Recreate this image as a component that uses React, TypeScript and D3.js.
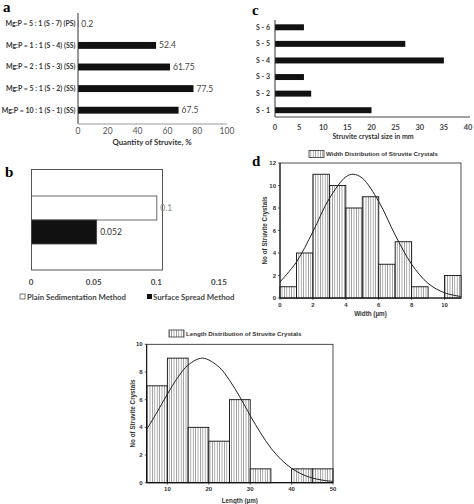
import React from "react";
import * as d3 from "d3";

// ---------- Panel a ----------
const aCategories = [
  "Mg:P = 5 : 1 (S - 7) (PS)",
  "Mg:P = 1 : 1 (S - 4) (SS)",
  "Mg:P = 2 : 1 (S - 3) (SS)",
  "Mg:P = 5 : 1 (S - 2) (SS)",
  "Mg:P = 10 : 1 (S - 1) (SS)",
];
const aValues = [0.2, 52.4, 61.75, 77.5, 67.5];
const aTicks = [0, 20, 40, 60, 80, 100];

// ---------- Panel b ----------
const bSeries = ["Plain Sedimentation Method", "Surface Spread Method"];
const bValues = [0.1, 0.052];
const bLabels = ["0.1", "0.052"];
const bTicks = [0, 0.05, 0.1, 0.15];
const bTickLabels = ["0", "0.05", "0.1", "0.15"];

// ---------- Panel c ----------
const cCategories = ["S - 6", "S - 5", "S - 4", "S - 3", "S - 2", "S - 1"];
const cValues = [6, 27, 35, 6, 7.5, 20];
const cTicks = [0, 5, 10, 15, 20, 25, 30, 35, 40];

// ---------- Panel d (width histogram) ----------
const dBinStart = [0, 1, 2, 3, 4, 5, 6, 7, 8, 9, 10];
const dBinEnd = [1, 2, 3, 4, 5, 6, 7, 8, 9, 10, 11];
const dCounts = [1, 4, 11, 10, 8, 9, 3, 5, 1, 0, 2];
const dCurveX = [0, 1, 2, 3, 4, 4.45, 5, 6, 7, 8, 9, 10, 11];
const dCurveY = [1.43, 3.2, 5.9, 8.85, 10.77, 11, 10.66, 8.58, 5.6, 3.0, 1.3, 0.46, 0.13];
const dXTicks = [0, 2, 4, 6, 8, 10];
const dYTicks = [0, 2, 4, 6, 8, 10, 12];

// ---------- Panel e (length histogram) ----------
const eBinStart = [5, 10, 15, 20, 25, 30, 35, 40, 45];
const eBinEnd = [10, 15, 20, 25, 30, 35, 40, 45, 50];
const eCounts = [7, 9, 4, 3, 6, 1, 0, 1, 1];
const eCurveX = [5, 7.5, 10, 12.5, 15, 18.5, 22.5, 25, 27.5, 30, 32.5, 35, 37.5, 40, 42.5, 45, 47.5, 50];
const eCurveY = [3.85, 5.1, 6.4, 7.6, 8.5, 9, 8.35, 7.4, 6.2, 4.85, 3.6, 2.5, 1.66, 1.04, 0.61, 0.34, 0.18, 0.09];
const eXTicks = [10, 20, 30, 40, 50];
const eYTicks = [0, 2, 4, 6, 8, 10];

const XL = "Lato, 'Open Sans', sans-serif";
const AR = "'Liberation Sans', Arial, sans-serif";
const SERIF = "'Liberation Serif', 'DejaVu Serif', serif";

function PanelA() {
  const x = d3.scaleLinear().domain([0, 100]).range([78, 227]);
  const y = d3.scaleBand().domain(aCategories).range([13, 121]).paddingInner(0.68).paddingOuter(0.34);
  return (
    <g>
      <text x={3} y={12} fontFamily={SERIF} fontWeight="bold" fontSize={15}>a</text>
      {aCategories.map((c, i) => (
        <g key={c}>
          <text x={75.5} y={y(c)! + y.bandwidth() / 2} dy="0.35em" textAnchor="end" fontFamily={XL} fontWeight="bold" fontSize={7} fill="#333">{c}</text>
          <rect x={x(0)} y={y(c)} width={x(aValues[i]) - x(0)} height={y.bandwidth()} fill="#111" />
          <text x={x(aValues[i]) + 3} y={y(c)! + y.bandwidth() / 2} dy="0.35em" fontFamily={XL} fontSize={8.5} fill="#444">{aValues[i]}</text>
        </g>
      ))}
      <line x1={x(0)} x2={x(0)} y1={13} y2={124} stroke="#333" />
      <line x1={x(0)} x2={x(100)} y1={124} y2={124} stroke="#999" />
      {aTicks.map((t) => (
        <text key={t} x={x(t)} y={131} dy="0.35em" textAnchor="middle" fontFamily={XL} fontSize={8.5} fill="#555">{t}</text>
      ))}
      <text x={152} y={142} dy="0.35em" textAnchor="middle" fontFamily={XL} fontWeight="bold" fontSize={7.8} fill="#333">Quantity of Struvite, %</text>
    </g>
  );
}

function PanelB() {
  const x = d3.scaleLinear().domain([0, 0.15]).range([31, 219]);
  const y = d3.scaleBand().domain(bSeries).range([196, 244]).padding(0);
  const fills = ["#fff", "#111"];
  const labelColors = ["#888", "#333"];
  return (
    <g>
      <text x={5} y={177} fontFamily={SERIF} fontWeight="bold" fontSize={15}>b</text>
      <rect x={31.5} y={169.5} width={131} height={100.5} fill="#fff" stroke="#555" />
      {bSeries.map((s, i) => (
        <g key={s}>
          <rect x={x(0) + 0.5} y={y(s)} width={x(bValues[i]) - x(0)} height={y.bandwidth()} fill={fills[i]} stroke="#444" strokeWidth={0.8} />
          <text x={x(bValues[i]) + 4} y={y(s)! + y.bandwidth() / 2} dy="0.35em" fontFamily={XL} fontSize={8.5} fill={labelColors[i]}>{bLabels[i]}</text>
        </g>
      ))}
      {bTicks.map((t, i) => (
        <text key={t} x={x(t)} y={282} dy="0.35em" textAnchor="middle" fontFamily={XL} fontWeight="bold" fontSize={8} fill="#444">{bTickLabels[i]}</text>
      ))}
      <rect x={20} y={294} width={5} height={5} fill="#fff" stroke="#444" strokeWidth={0.7} />
      <text x={27} y={297} dy="0.35em" fontFamily={XL} fontWeight="bold" fontSize={7.8} fill="#444">{bSeries[0]}</text>
      <rect x={147} y={294} width={5} height={5} fill="#111" />
      <text x={153} y={297} dy="0.35em" fontFamily={XL} fontWeight="bold" fontSize={7.8} fill="#444">{bSeries[1]}</text>
    </g>
  );
}

function PanelC() {
  const x = d3.scaleLinear().domain([0, 40]).range([275, 468]);
  const y = d3.scaleBand().domain(cCategories).range([19, 118.5]).paddingInner(0.64).paddingOuter(0.32);
  return (
    <g>
      <text x={252} y={15} fontFamily={SERIF} fontWeight="bold" fontSize={15}>c</text>
      {cCategories.map((c, i) => (
        <g key={c}>
          <text x={270} y={y(c)! + y.bandwidth() / 2} dy="0.35em" textAnchor="end" fontFamily={XL} fontWeight="bold" fontSize={7} fill="#333">{c}</text>
          <rect x={x(0)} y={y(c)} width={x(cValues[i]) - x(0)} height={y.bandwidth()} fill="#111" />
        </g>
      ))}
      <line x1={x(0)} x2={x(0)} y1={20} y2={117} stroke="#333" />
      <line x1={x(0)} x2={470} y1={117} y2={117} stroke="#444" />
      {cTicks.map((t) => (
        <text key={t} x={x(t)} y={127} dy="0.35em" textAnchor="middle" fontFamily={XL} fontWeight="bold" fontSize={7.5} fill="#444">{t}</text>
      ))}
      <text x={373} y={137} dy="0.35em" textAnchor="middle" fontFamily={XL} fontWeight="bold" fontSize={7} fill="#333">Struvite crystal size in mm</text>
    </g>
  );
}

function Histogram(props: {
  x: d3.ScaleLinear<number, number>;
  y: d3.ScaleLinear<number, number>;
  starts: number[]; ends: number[]; counts: number[];
  cx: number[]; cy: number[];
  xTicks: number[]; yTicks: number[];
  legend: string; legendX: number; legendY: number;
  xTitle: string; xTitleY: number; yTitleX: number;
}) {
  const { x, y } = props;
  const [x0, x1] = x.range();
  const [y0, y1] = y.range();
  const pts: [number, number][] = props.cx.map((v, i) => [x(v), y(props.cy[i])]);
  const line = d3.line().curve(d3.curveCatmullRom.alpha(0.5))(pts) || "";
  return (
    <g>
      <rect x={x0} y={y1} width={x1 - x0} height={y0 - y1} fill="#fff" stroke="#222" strokeWidth={0.8} />
      {props.counts.map((c, i) =>
        c > 0 ? (
          <rect key={i} x={x(props.starts[i])} y={y(c)} width={x(props.ends[i]) - x(props.starts[i])} height={y(0) - y(c)} fill="url(#stripes)" stroke="#111" strokeWidth={0.9} />
        ) : null
      )}
      <path d={line} fill="none" stroke="#222" strokeWidth={1} />
      <line x1={x0} x2={x1} y1={y0} y2={y0} stroke="#111" strokeWidth={1.2} />
      <line x1={x0} x2={x0} y1={y0} y2={y1} stroke="#111" strokeWidth={1} />
      {props.xTicks.map((t) => (
        <g key={t}>
          <line x1={x(t)} x2={x(t)} y1={y0} y2={y0 + 2} stroke="#222" strokeWidth={0.7} />
          <text x={x(t)} y={y0 + 6.5} dy="0.35em" textAnchor="middle" fontFamily={AR} fontWeight="bold" fontSize={6} fill="#333">{t}</text>
        </g>
      ))}
      {props.yTicks.map((t) => (
        <g key={t}>
          <line x1={x0 - 2} x2={x0} y1={y(t)} y2={y(t)} stroke="#222" strokeWidth={0.7} />
          <text x={x0 - 4} y={y(t)} dy="0.35em" textAnchor="end" fontFamily={AR} fontWeight="bold" fontSize={6} fill="#333">{t}</text>
        </g>
      ))}
      <text x={(x0 + x1) / 2} y={props.xTitleY} dy="0.35em" textAnchor="middle" fontFamily={AR} fontWeight="bold" fontSize={6.3} fill="#333">{props.xTitle}</text>
      <text transform={`translate(${props.yTitleX},${(y0 + y1) / 2}) rotate(-90)`} dy="0.35em" textAnchor="middle" fontFamily={AR} fontWeight="bold" fontSize={6.3} fill="#333">No of Struvite Crystals</text>
      <rect x={props.legendX} y={props.legendY - 3.5} width={15} height={7} fill="url(#stripes)" stroke="#333" strokeWidth={0.8} />
      <text x={props.legendX + 17} y={props.legendY} dy="0.35em" fontFamily={AR} fontWeight="bold" fontSize={6.2} fill="#333">{props.legend}</text>
    </g>
  );
}

export default function App() {
  const dx = d3.scaleLinear().domain([0, 11]).range([280, 461]);
  const dy = d3.scaleLinear().domain([0, 12]).range([298, 163]);
  const ex = d3.scaleLinear().domain([5, 50]).range([146.7, 333]);
  const ey = d3.scaleLinear().domain([0, 10]).range([482.7, 344.3]);
  return (
    <svg width={474} height={504} style={{ position: "absolute", left: 0, top: 0, background: "#fff" }}>
      <defs>
        <pattern id="stripes" patternUnits="userSpaceOnUse" width={2.4} height={4}>
          <rect width={2.4} height={4} fill="#fff" />
          <line x1={1.2} x2={1.2} y1={0} y2={4} stroke="#777" strokeWidth={0.7} />
        </pattern>
      </defs>
      <PanelA />
      <PanelB />
      <PanelC />
      <text x={252} y={166} fontFamily={SERIF} fontWeight="bold" fontSize={15}>d</text>
      <Histogram x={dx} y={dy} starts={dBinStart} ends={dBinEnd} counts={dCounts} cx={dCurveX} cy={dCurveY}
        xTicks={dXTicks} yTicks={dYTicks} legend="Width Distribution of Struvite Crystals" legendX={309} legendY={154}
        xTitle="Width (µm)" xTitleY={314} yTitleX={265} />
      <Histogram x={ex} y={ey} starts={eBinStart} ends={eBinEnd} counts={eCounts} cx={eCurveX} cy={eCurveY}
        xTicks={eXTicks} yTicks={eYTicks} legend="Length Distribution of Struvite Crystals" legendX={169} legendY={333.5}
        xTitle="Length (µm)" xTitleY={501} yTitleX={133} />
    </svg>
  );
}
